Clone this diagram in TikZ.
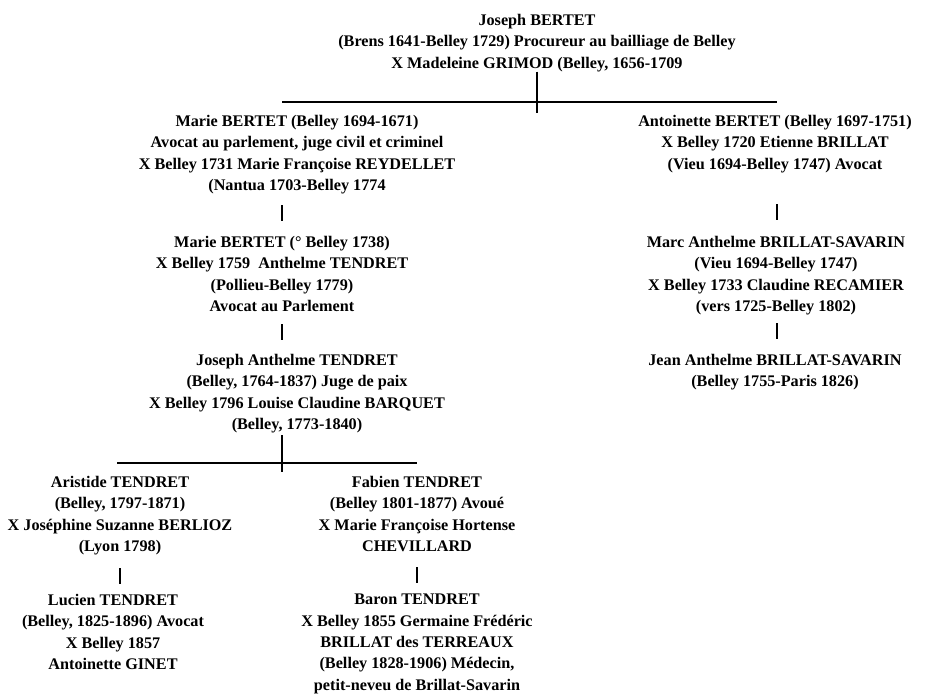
\documentclass[tikz,border=0pt]{standalone}
\usepackage{fontspec}
\setmainfont{Liberation Serif}
\usetikzlibrary{calc}
\begin{document}
\begin{tikzpicture}[x=1pt,y=-1pt,
  person/.style={align=center, inner sep=0pt, anchor=north, font=\fontsize{16.2}{21.3}\selectfont\bfseries},
  link/.style={line width=1.2pt},
  bar/.style={line width=2.6pt}]
\useasboundingbox[fill=white] (0,0) rectangle (925,695);
\node[person] (joseph) at (537,14) {Joseph BERTET\\(Brens 1641-Belley 1729) Procureur au bailliage de Belley\\X Madeleine GRIMOD (Belley, 1656-1709};
\node[person] (marie1) at (297,115) {Marie BERTET (Belley 1694-1671)\\Avocat au parlement, juge civil et criminel\\X Belley 1731 Marie Françoise REYDELLET\\(Nantua 1703-Belley 1774};
\node[person] (antoinette) at (775,115) {Antoinette BERTET (Belley 1697-1751)\\X Belley 1720 Etienne BRILLAT\\(Vieu 1694-Belley 1747) Avocat};
\node[person] (marie2) at (282,236) {Marie BERTET (° Belley 1738)\\X Belley 1759~~Anthelme TENDRET\\(Pollieu-Belley 1779)\\Avocat au Parlement};
\node[person] (marc) at (776,236) {Marc Anthelme BRILLAT-SAVARIN\\(Vieu 1694-Belley 1747)\\X Belley 1733 Claudine RECAMIER\\(vers 1725-Belley 1802)};
\node[person] (jean) at (775,354) {Jean Anthelme BRILLAT-SAVARIN\\(Belley 1755-Paris 1826)};
\node[person] (joseph2) at (297,354) {Joseph Anthelme TENDRET\\(Belley, 1764-1837) Juge de paix\\X Belley 1796 Louise Claudine BARQUET\\(Belley, 1773-1840)};
\node[person] (aristide) at (120,476) {Aristide TENDRET\\(Belley, 1797-1871)\\X Joséphine Suzanne BERLIOZ\\(Lyon 1798)};
\node[person] (fabien) at (417,476) {Fabien TENDRET\\(Belley 1801-1877) Avoué\\X Marie Françoise Hortense\\CHEVILLARD};
\node[person] (lucien) at (113,594) {Lucien TENDRET\\(Belley, 1825-1896) Avocat\\X Belley 1857\\Antoinette GINET};
\node[person] (baron) at (417,594) {Baron TENDRET\\X Belley 1855 Germaine Frédéric\\BRILLAT des TERREAUX\\(Belley 1828-1906) Médecin,\\petit-neveu de Brillat-Savarin};
% spines
\coordinate (lspine) at (282,0);
\coordinate (rspine) at (777,0);
% first branching
\coordinate (b1) at (537,102);
\coordinate (b1end) at (537,113);
\draw[link] (joseph.south -| b1) -- (b1end);
\draw[link] (lspine |- b1) -- (rspine |- b1);
% second branching
\coordinate (b2) at (282,463);
\coordinate (b2end) at (282,472);
\coordinate (b2left) at (117,463);
\draw[link] ([yshift=-2pt]joseph2.south -| b2) -- (b2end);
\draw[link] (b2left) -- (fabien.north |- b2);
% bars
\foreach \s/\y in {lspine/213, rspine/212, lspine/332, rspine/331}{
  \draw[bar] (\s |- 0,\y) ++(0,-8) -- ++(0,16);
}
\foreach \b/\y in {aristide/576, fabien/575}{
  \draw[bar] (\b.north |- 0,\y) ++(0,-8) -- ++(0,16);
}
\end{tikzpicture}
\end{document}
